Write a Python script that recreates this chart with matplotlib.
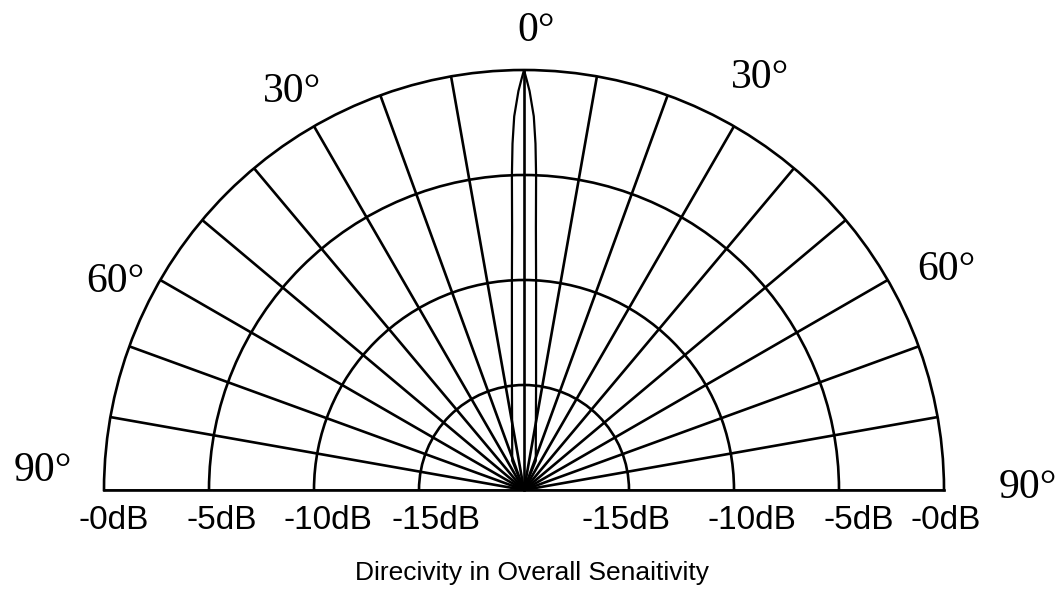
import numpy as np
import matplotlib
matplotlib.use("Agg")
import matplotlib.pyplot as plt

# data
ring_db = [-15, -10, -5]                      # inner rings
db_labels = ["-0dB", "-5dB", "-10dB", "-15dB"]
db_values = [0, -5, -10, -15]
spoke_deg = list(range(-90, 91, 10))
angle_labels = ["0°", "30°", "30°", "60°", "60°", "90°", "90°"]
angle_deg = [0, -30, 30, -60, 60, -90, 90]

# main lobe (one side), level in dB vs angle off axis in degrees
lobe_db = [-20, -18.5, -17.5, -15, -12.5, -10, -7.5, -5, -3.5, -2.2, -1, -0.5, 0]
lobe_deg = [0, 22, 13, 6.6, 4.4, 3.3, 2.6, 2.2, 1.9, 1.5, 0.8, 0.4, 0]

W, H = 1064, 590
fig = plt.figure(figsize=(W / 100, H / 100), dpi=100)
cx, cy, R = 524, 490, 420
# the half-disk is drawn at half the box size, centred in the box
mx, my = cx, cy - R / 2
ax = fig.add_axes([(mx - 2 * R) / W, (H - my - R) / H, 4 * R / W, 2 * R / H],
                  projection="polar")
ax.set_theta_zero_location("N")
ax.set_theta_direction(-1)
ax.set_thetamin(-90)
ax.set_thetamax(90)
ax.set_ylim(-20, 0)

lw = 1.9
ax.set_thetagrids(spoke_deg, labels=[""] * len(spoke_deg))
ax.set_rgrids(ring_db, labels=[""] * len(ring_db))
ax.grid(True, color="black", linewidth=lw, linestyle="-")
ax.tick_params(length=0)
for name in ["polar", "start", "end"]:
    ax.spines[name].set_color("black")
    ax.spines[name].set_linewidth(lw)
ax.spines["inner"].set_visible(False)

# lobe
th = np.deg2rad(np.concatenate([-np.array(lobe_deg), np.array(lobe_deg)[::-1]]))
rr = np.concatenate([lobe_db, lobe_db[::-1]])
ax.plot(th, rr, color="black", linewidth=1.6)

# dB labels under the baseline on both sides (x nudges in points)
nudge = {-90: [7, 9, 10, 12], 90: [1, 14, 13, -2]}
for side in (-90, 90):
    for lab, v, dx in zip(db_labels, db_values, nudge[side]):
        ax.annotate(lab, xy=(np.deg2rad(side), v), xytext=(dx, -22),
                    textcoords="offset points", ha="center", va="center",
                    fontsize=24, family="Liberation Sans", annotation_clip=False)

# angle labels
label_r = [1.9, 1.95, 2.6, 1.86, 2.67, 2.95, 4.0]
label_shift = [1.5, -0.2, -0.2, -3, 2.5, 2.3, -0.3]
for lab, a, r, s in zip(angle_labels, angle_deg, label_r, label_shift):
    ax.text(np.deg2rad(a + s), r, lab, ha="center", va="center",
            fontsize=30, family="Liberation Serif", clip_on=False)

fig.text(532 / W, 1 - 573 / H, "Direcivity in Overall Senaitivity",
         ha="center", va="center", fontsize=19, family="Liberation Sans")

fig.savefig("out.png", dpi=100, facecolor="white")
